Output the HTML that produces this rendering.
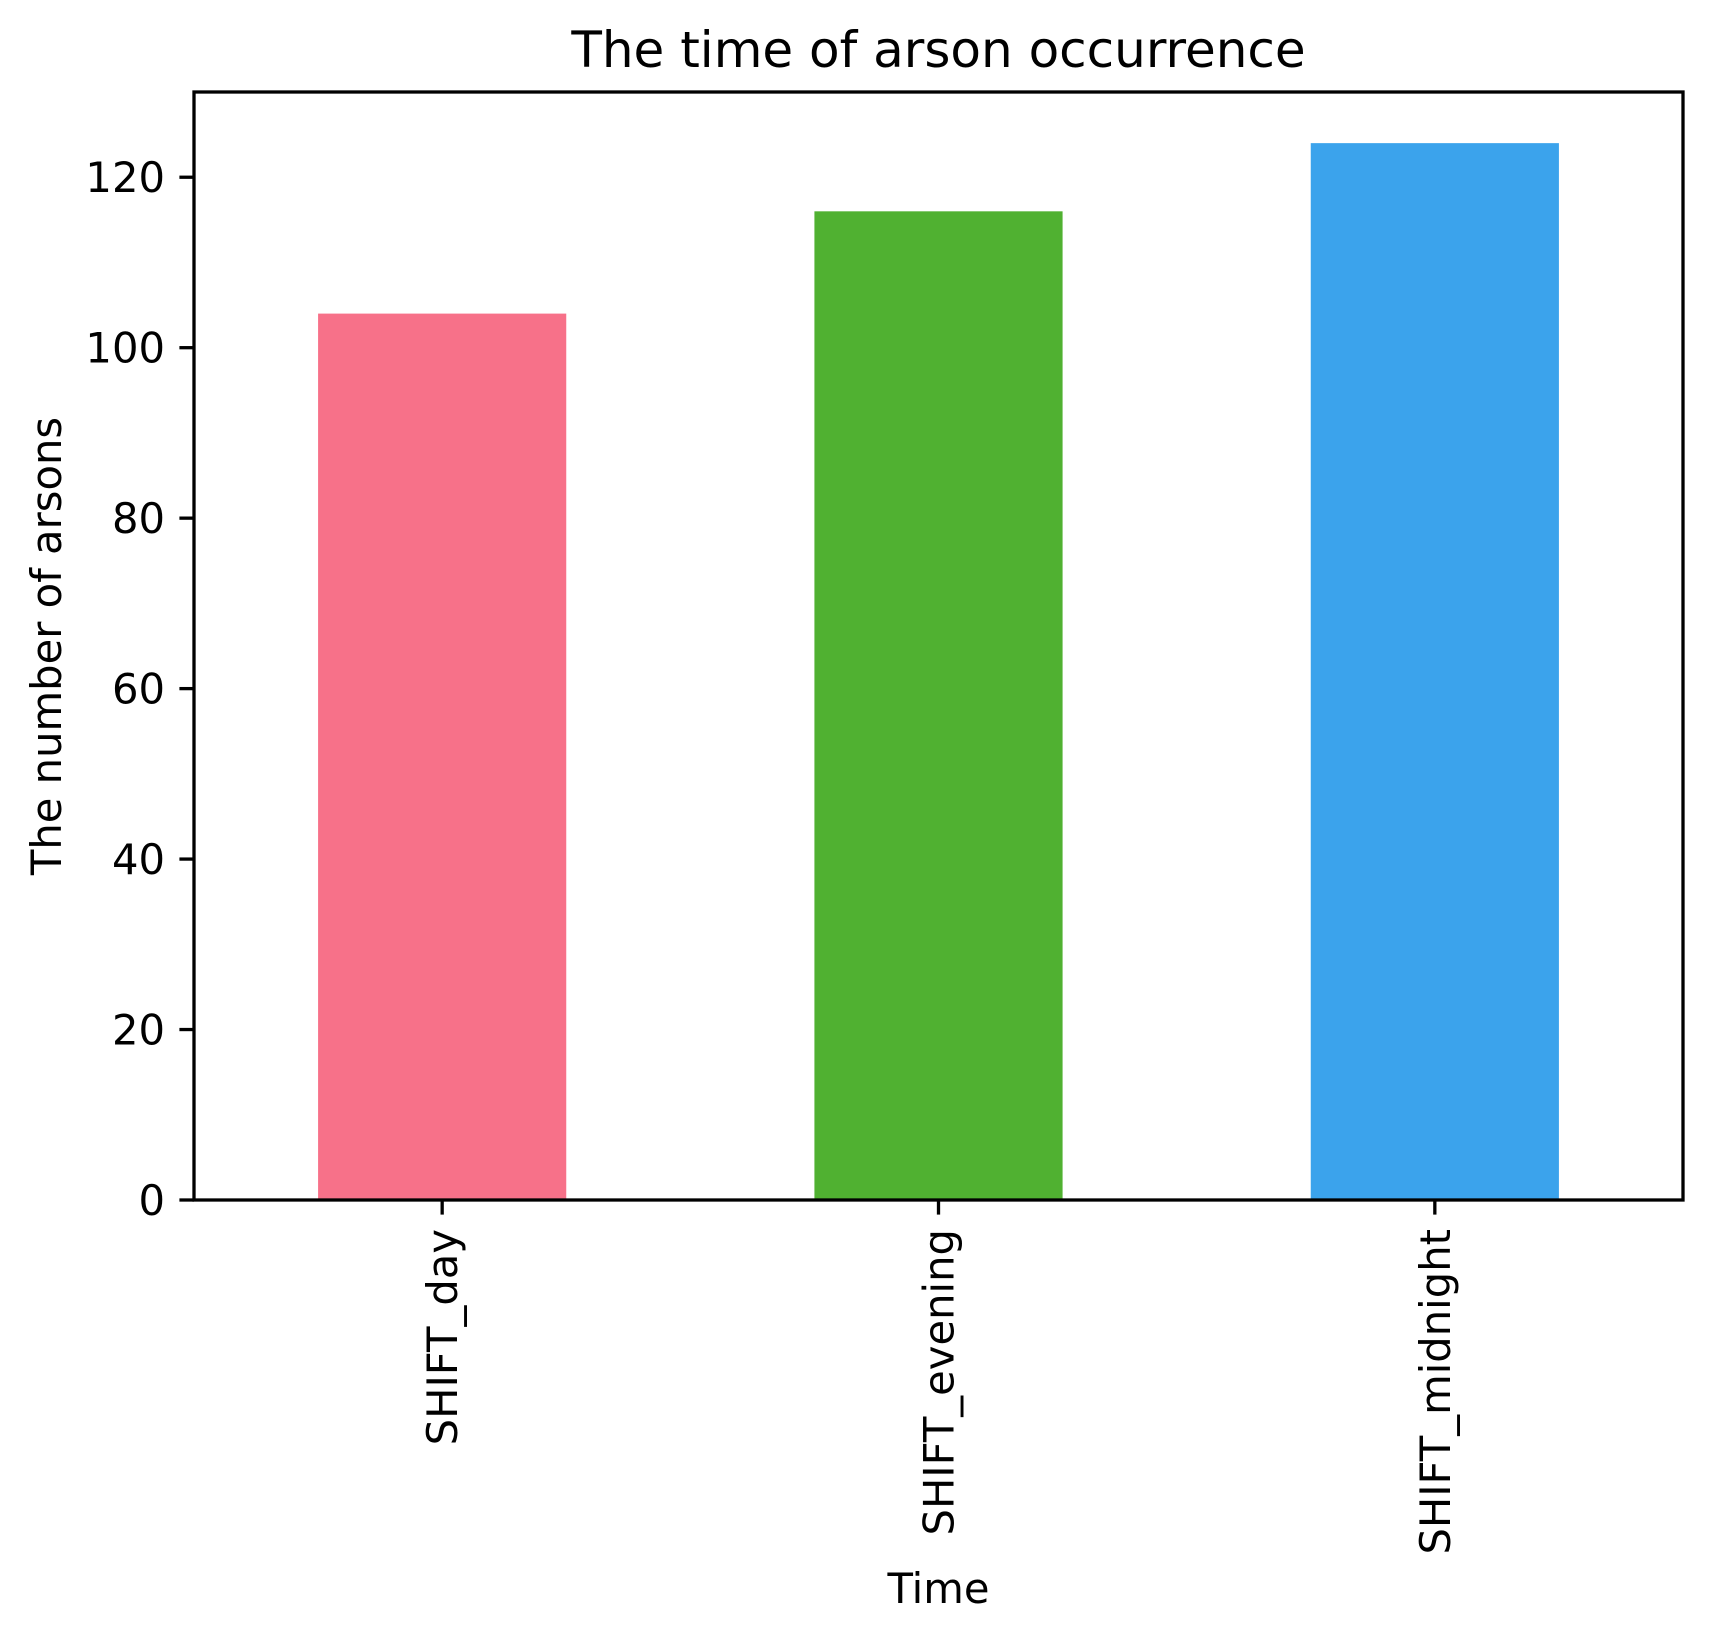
<!DOCTYPE html>
<html><head><meta charset="utf-8"><style>
html,body{margin:0;padding:0;background:#fff;}
svg text{font-family:"DejaVu Sans","Liberation Sans",sans-serif;fill:#000;}
</style></head><body>
<svg id="chart" width="1713" height="1642" viewBox="0 0 1713 1642" xmlns="http://www.w3.org/2000/svg">
<rect x="0" y="0" width="1713" height="1642" fill="#fff"/>
<g id="bars"></g>
<g id="yticks"></g>
<g id="xticks"></g>
<rect x="194" y="92" width="1489" height="1108" fill="none" stroke="#000" stroke-width="3.3"/>
<text x="938.5" y="67" font-size="50" text-anchor="middle">The time of arson occurrence</text>
<text x="938.5" y="1603" font-size="41.7" text-anchor="middle">Time</text>
<text x="0" y="0" font-size="41.7" text-anchor="middle" transform="translate(61,646) rotate(-90)">The number of arsons</text>
</svg>
<script>
const categories = ["SHIFT_day", "SHIFT_evening", "SHIFT_midnight"];
const values = [104, 116, 124];
const colors = ["#f77189", "#50b131", "#3ba3ec"];
const yTicks = [0, 20, 40, 60, 80, 100, 120];

const NS = "http://www.w3.org/2000/svg";
const L = 194, R = 1683, T = 92, B = 1200;
const yMax = 130;
const xScale = i => L + (i + 0.5) * (R - L) / categories.length;
const yScale = v => B - v / yMax * (B - T);
const bandW = (R - L) / categories.length;

const gb = document.getElementById("bars");
values.forEach((v, i) => {
  const r = document.createElementNS(NS, "rect");
  
  
  r.setAttribute("x", xScale(i) - bandW * 0.25);
  r.setAttribute("width", bandW * 0.5);
  r.setAttribute("y", yScale(v));
  r.setAttribute("height", B - yScale(v));
  r.setAttribute("fill", colors[i]);
  gb.appendChild(r);
});

const gy = document.getElementById("yticks");
yTicks.forEach(t => {
  const y = yScale(t);
  const ln = document.createElementNS(NS, "line");
  
  
  ln.setAttribute("x1", L - 14.6); ln.setAttribute("x2", L);
  ln.setAttribute("y1", y); ln.setAttribute("y2", y);
  ln.setAttribute("stroke", "#000"); ln.setAttribute("stroke-width", "3.3");
  gy.appendChild(ln);
  const tx = document.createElementNS(NS, "text");
  
  
  tx.setAttribute("x", L - 29); tx.setAttribute("y", y + 15);
  tx.setAttribute("font-size", "41.7"); tx.setAttribute("text-anchor", "end");
  tx.textContent = t;
  gy.appendChild(tx);
});

const gx = document.getElementById("xticks");
categories.forEach((c, i) => {
  const x = xScale(i);
  const ln = document.createElementNS(NS, "line");
  
  
  ln.setAttribute("x1", x); ln.setAttribute("x2", x);
  ln.setAttribute("y1", B); ln.setAttribute("y2", B + 14.6);
  ln.setAttribute("stroke", "#000"); ln.setAttribute("stroke-width", "3.3");
  gx.appendChild(ln);
  const tx = document.createElementNS(NS, "text");
  
  
  tx.setAttribute("font-size", "41.7"); tx.setAttribute("text-anchor", "end");
  tx.setAttribute("transform", "translate(" + (x + 15) + "," + (B + 29) + ") rotate(-90)");
  tx.textContent = c;
  gx.appendChild(tx);
});
</script>
</body></html>
